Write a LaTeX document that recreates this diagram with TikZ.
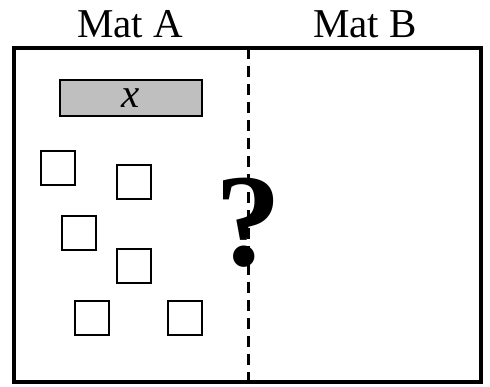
\documentclass[tikz,border=0pt]{standalone}
\usepackage{fontspec}
\setmainfont{Liberation Serif}

\tikzset{
  tile/.style={draw, line width=2pt, minimum size=34pt, inner sep=0pt},
  xbar/.style={draw, fill=gray!50, line width=1.5pt, minimum width=142pt,
    minimum height=36pt, inner sep=0pt, font=\fontsize{41}{48}\selectfont\itshape},
  matlabel/.style={anchor=base, font=\fontsize{41}{48}\selectfont},
}

\begin{document}
\begin{tikzpicture}[x=1pt,y=-1pt]
    \useasboundingbox (0,0) rectangle (490,386);
    % the two mats
    \draw[line width=4pt] (14,48) rectangle (481,382);
    \coordinate (top) at (248,48);
    \coordinate (bot) at (248,382);
    \draw[line width=3pt, dash pattern=on 11pt off 7pt] (top) -- (bot);
    \node[matlabel] (matA) at (130,37) {Mat A};
    \node[matlabel] (matB) at (365,37) {Mat B};
    % x bar and unit tiles on mat A
    \node[xbar] (xbar) at (131,98) {x};
    \node[tile] (t1) at (57.5,167.5) {};
    \node[tile] (t2) at (133.5,181.5) {};
    \node[tile] (t3) at (78.5,232.5) {};
    \node[tile] (t4) at (133.5,265.5) {};
    \node[tile] (t5) at (91.5,318) {};
    \node[tile] (t6) at (184.5,318) {};
    % the question
    \node[inner sep=0pt, font=\fontsize{132}{132}\selectfont\bfseries] (ask) at (248,223) {?};
\end{tikzpicture}
\end{document}
